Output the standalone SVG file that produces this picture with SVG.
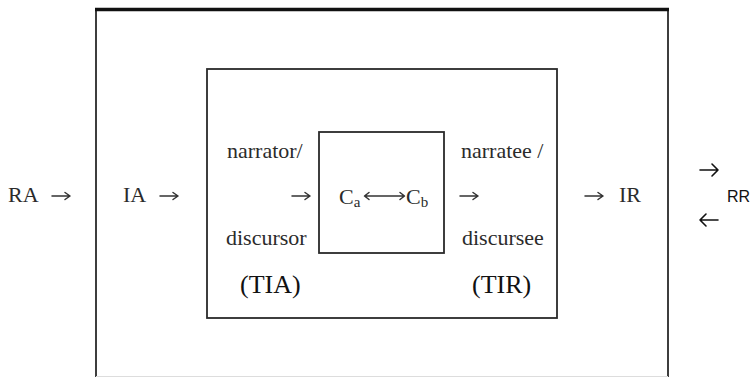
<svg xmlns="http://www.w3.org/2000/svg" width="753" height="377" viewBox="0 0 753 377">
<defs>
<style>
.box{fill:none;stroke:#2a2a2a;stroke-width:1.8}
.t{font-family:"Liberation Serif","Times New Roman",serif;font-size:22px;fill:#2b2b2b}
.big{font-family:"Liberation Serif","Times New Roman",serif;font-size:26px;fill:#111}
.sans{font-family:"Liberation Sans",Arial,sans-serif;font-size:16px;fill:#111}
.arr{fill:none;stroke:#333;stroke-width:1.5;stroke-linecap:round;stroke-linejoin:round}
.arr2{fill:none;stroke:#111;stroke-width:1.6;stroke-linecap:round;stroke-linejoin:round}
</style>
</defs>
<rect width="753" height="377" fill="#fff"/>
<g id="outer">
<path class="box" d="M96 9.5V377M668 9.5V377"/>
<line x1="96" y1="376.5" x2="668" y2="376.5" stroke="#ddd" stroke-width="1"/>
<line x1="95" y1="9.5" x2="669" y2="9.5" stroke="#111" stroke-width="3.5"/>
</g>
<g id="inner">
<rect class="box" x="207" y="69" width="350" height="249"/>
</g>
<g id="center">
<rect class="box" x="319" y="132" width="125" height="121"/>
<text class="t" x="339" y="204">C<tspan font-size="15" dy="3">a</tspan></text>
<text class="t" x="406" y="204">C<tspan font-size="15" dy="3">b</tspan></text>
</g>
<g id="labels">
<text class="t" x="8" y="202">RA</text>
<text class="t" x="123" y="202">IA</text>
<text class="t" x="619" y="202">IR</text>
<text class="sans" x="727" y="202">RR</text>
<text class="t" x="227" y="158">narrator/</text>
<text class="t" x="226" y="245">discursor</text>
<text class="t" x="461" y="158">narratee /</text>
<text class="t" x="462" y="245">discursee</text>
<text class="big" x="240" y="293">(TIA)</text>
<text class="big" x="472" y="293">(TIR)</text>
</g>
<g id="connectors">
<path class="arr" d="M52 196H70M65 192.5L70 196L65 199.5"/>
<path class="arr" d="M160 196H178M173 192.5L178 196L173 199.5"/>
<path class="arr" d="M292 196H310M305 192.5L310 196L305 199.5"/>
<path class="arr" d="M460 196H478M473 192.5L478 196L473 199.5"/>
<path class="arr" d="M585 196H603M598 192.5L603 196L598 199.5"/>
<path class="arr" d="M365 196H404M369 192.5L364.5 196L369 199.5M400 192.5L404.5 196L400 199.5"/>
<path class="arr2" d="M700 170H718M712 164L718 170L712 176"/>
<path class="arr2" d="M700 220H718M706 214L700 220L706 226"/>
</g>
</svg>
